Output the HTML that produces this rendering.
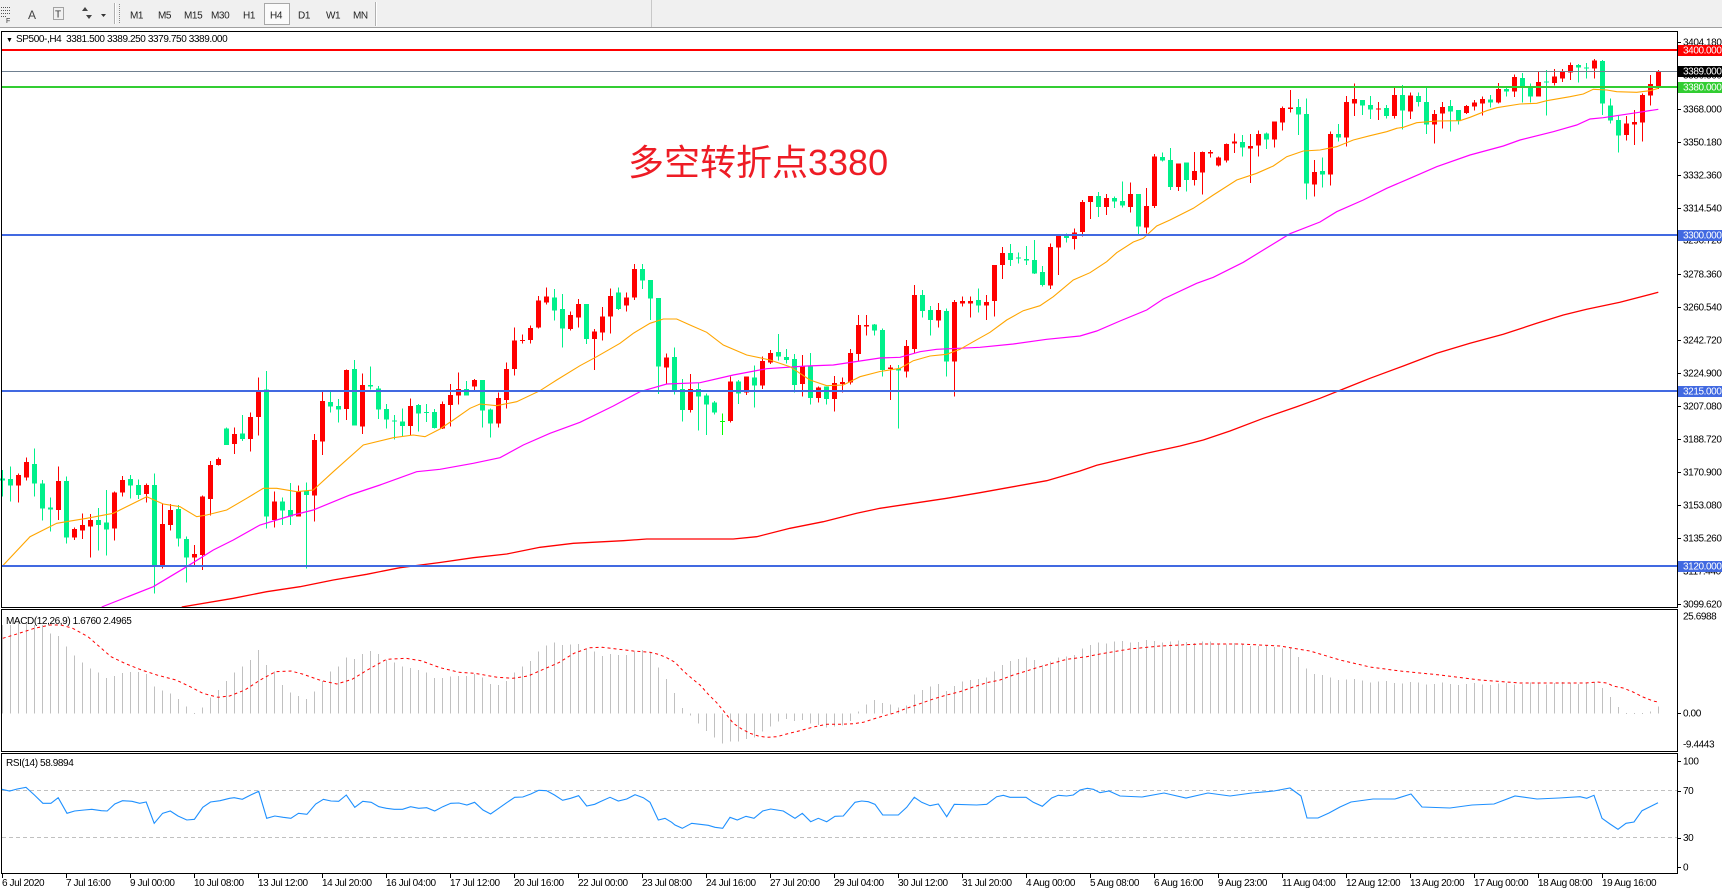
<!DOCTYPE html>
<html><head><meta charset="utf-8">
<style>
html,body{margin:0;padding:0;background:#fff;width:1722px;height:894px;overflow:hidden}
svg{display:block}
text{font-family:"Liberation Sans",sans-serif;font-size:10px;letter-spacing:-0.4px}
</style></head><body>
<svg id="s" width="1722" height="894" viewBox="0 0 1722 894" xmlns="http://www.w3.org/2000/svg">
<rect x="0" y="0" width="1722" height="894" fill="#ffffff"/>
<!-- toolbar -->
<rect x="0" y="0" width="1722" height="27" fill="#f0f0f0"/>
<line x1="0" y1="27.5" x2="1722" y2="27.5" stroke="#a0a0a0"/>
<line x1="651.5" y1="0" x2="651.5" y2="27" stroke="#c8c8c8"/>
<g stroke="#555" stroke-dasharray="1,1" stroke-width="1">
<line x1="1" y1="7.5" x2="10" y2="7.5"/><line x1="1" y1="10.5" x2="10" y2="10.5"/><line x1="1" y1="13.5" x2="10" y2="13.5"/><line x1="1" y1="16.5" x2="6" y2="16.5"/>
</g>
<text x="6" y="23" style="font-size:7px" fill="#333">F</text>
<text x="28" y="19" style="font-size:12px;letter-spacing:0" fill="#444">A</text>
<rect x="53.5" y="7.5" width="10" height="12" fill="none" stroke="#555" stroke-dasharray="1,1"/>
<text x="55" y="17.5" style="font-size:10px;letter-spacing:0" fill="#333">T</text>
<path d="M82 11 l3 -4 l3 4 z M86 15 l3 4 l3 -4 z" fill="#444"/>
<path d="M101 14 l5 0 l-2.5 3 z" fill="#333"/>
<line x1="114.5" y1="3" x2="114.5" y2="24" stroke="#b0b0b0"/>
<line x1="115.5" y1="3" x2="115.5" y2="24" stroke="#ffffff"/>
<line x1="119.5" y1="4" x2="119.5" y2="24" stroke="#888" stroke-dasharray="1,1"/>
<rect x="264.5" y="3.5" width="25" height="21" fill="#fbfbfb" stroke="#a8a8a8"/>
<g fill="#222" style="font-size:9px">
<text x="130" y="18.5">M1</text><text x="158" y="18.5">M5</text><text x="184" y="18.5">M15</text><text x="211" y="18.5">M30</text><text x="243" y="18.5">H1</text><text x="270" y="18.5">H4</text><text x="298" y="18.5">D1</text><text x="326" y="18.5">W1</text><text x="353" y="18.5">MN</text>
</g>
<line x1="375.5" y1="2" x2="375.5" y2="26" stroke="#b0b0b0"/>
<line x1="376.5" y1="2" x2="376.5" y2="26" stroke="#ffffff"/>
<g id="dyn"></g>
</svg>
<script>
(function(){
var out=[];
function R(x,y,w,h,f){out.push('<rect x="'+x+'" y="'+y.toFixed(2)+'" width="'+w+'" height="'+Math.max(h,1).toFixed(2)+'" fill="'+f+'" shape-rendering="crispEdges"/>');}
function PL(pts,st,extra){out.push('<polyline fill="none" stroke="'+st+'" '+(extra||'')+' points="'+pts.map(function(p){return p[0].toFixed(1)+','+p[1].toFixed(1)}).join(' ')+'"/>');}
function T(x,y,s,f,st){out.push('<text x="'+x+'" y="'+y+'" fill="'+(f||'#000')+'"'+(st?' style="'+st+'"':'')+'>'+s+'</text>');}
function L(x1,y1,x2,y2,st,extra){out.push('<line x1="'+x1+'" y1="'+y1+'" x2="'+x2+'" y2="'+y2+'" stroke="'+st+'" '+(extra||'')+' shape-rendering="crispEdges"/>');}

var A=[['g',810,890,836,842],['g',800,905,837,857],['r',820,908,825,857],['r',773,842,786,832],['g',746,890,792,851],['g',840,962,850,926],['g',893,995,923,929],['r',800,960,843,930],['g',830,1030,843,1013],['r',982,1020,987,1013],['r',940,1017,975,992],['r',942,1073,960,980],['g',924,1052,960,975],['g',870,1067,968,988],['r',875,1022,878,986],['r',828,890,840,878],['g',825,895,837,857],['g',838,897,855,885],['r',850,908,855,882],['g',820,1180,855,1097],['r',912,1105,972,1097],['r',912,992,930,975],['g',915,1040,927,1015],['g',1010,1148,1017,1073],['r',1035,1100,1062,1073],['r',887,1110,890,1065],['r',783,947,795,897],['r',773,797,777,795],['g',683,735,686,735],['r',682,762,702,732],['g',645,723,700,717],['r',637,755,651,717],['r',533,707,573,651],['g',513,985,568,950],['r',875,982,905,960],['g',892,975,905,932],['g',849,975,930,950],['r',857,950,875,950],['g',848,1105,873,885],['r',702,965,720,887],['r',575,765,603,725],['g',575,638,606,620],['g',597,668,618,628],['r',508,660,510,627],['g',480,677,507,677],['r',520,702,555,680],['g',500,568,555,560],['g',558,657,565,629],['g',612,685,627,658],['g',645,718,662,665],['g',625,710,665,678],['r',595,706,618,678],['g',612,695,615,640],['g',612,666,636,638],['g',627,685,636,684]];
var B=[['r',605,687,612,685],['r',552,680,585,615],['r',518,613,567,587],['g',543,587,567,587],['r',537,570,540,560],['g',540,683,540,632],['g',625,713,628,670],['r',578,683,594,670],['r',488,625,507,600],['r',383,527,422,507],['r',403,430,420,423],['r',377,430,384,420],['r',288,385,302,383],['r',263,314,290,308],['g',267,362,293,332],['g',282,442,327,385],['r',335,392,345,387],['r',297,382,312,353],['g',312,432,312,417],['r',387,510,395,417],['r',321,422,350,397],['r',265,400,288,350],['g',263,330,278,327],['r',277,335,293,317],['r',192,300,207,293],['g',192,267,207,242],['g',240,360,240,296],['g',294,582,294,500],['r',460,552,472,502],['g',443,583,471,570],['g',537,665,567,630],['r',522,638,567,630],['g',547,692,567,590],['g',580,705,587,614],['g',603,643,608,638],['l',640,705,663,666],['r',530,668,545,663],['g',540,612,545,580],['r',530,585,530,578],['g',497,622,533,557],['r',470,567,483,557],['r',450,492,459,487],['g',402,482,456,470],['g',447,490,471,480],['g',462,578,477,555],['r',465,590,500,552],['g',459,614,500,594],['r',560,608,562,594],['g',560,614,560,597],['r',528,635,549,597],['r',533,578,546,552],['r',447,553,459,548],['r',345,485,375,462],['r',345,407,375,380],['g',372,407,374,392]];
var C=[['g',625,770,630,750],['r',735,840,743,747],['g',735,925,745,752],['r',660,773,678,755],['r',495,700,525,687],['g',510,593,525,573],['g',558,647,570,600],['r',549,622,570,602],['g',565,770,573,725],['r',540,830,546,725],['r',530,560,543,551],['r',530,593,543,551],['g',505,577,540,557],['r',525,600,546,557],['r',435,590,435,543],['r',381,477,399,435],['g',372,438,399,420],['g',398,430,413,416],['g',378,435,417,422],['g',360,462,420,460],['g',438,500,456,495],['r',370,507,381,497],['r',345,465,345,383],['g',340,368,347,354],['r',325,389,337,357],['r',240,350,246,336],['r',228,297,228,246],['g',216,291,228,261],['r',222,285,234,261],['g',230,264,234,245],['g',185,262,243,257],['r',188,277,222,261],['g',222,343,222,320],['r',204,340,258,322],['r',102,264,110,258],['g',97,124,111,122],['g',84,210,120,201],['r',130,213,130,201],['g',128,215,128,180],['r',96,197,153,180],['r',94,224,96,158],['r',90,113,96,100],['r',110,140,113,137],['r',70,127,72,121],['r',40,99,65,71],['g',45,110,66,83],['r',42,189,78,86],['r',32,110,42,77],['g',38,87,40,59]];
var D=[['r',245,322,245,299],['r',200,272,204,248],['r',150,218,203,207],['g',177,285,201,224],['g',175,478,222,431],['r',360,470,396,434],['g',353,443,393,404],['r',275,437,282,404],['g',252,305,282,293],['r',168,320,186,293],['r',131,228,177,191],['g',180,225,180,197],['g',168,237,195,209],['r',186,240,206,209],['g',195,235,204,228],['r',143,236,165,228],['g',135,268,165,212],['r',158,237,167,215],['g',157,200,168,186],['g',143,282,186,253],['r',210,311,222,254],['r',186,266,201,221],['g',180,275,198,215],['g',210,253,210,243],['r',195,222,198,219],['r',180,211,188,200],['r',170,226,177,191],['g',165,203,178,187],['r',129,190,147,188],['g',142,170,147,155],['r',104,171,111,155],['g',99,188,114,140],['g',131,188,140,170],['r',95,170,126,170],['g',90,227,124,128],['r',87,137,110,129],['r',87,126,95,116],['r',67,120,75,97],['g',72,128,75,83],['g',69,115,82,86],['r',57,116,62,86],['g',60,225,63,190],['g',175,250,196,242],['g',228,338,240,287],['r',228,302,250,285],['r',210,315,246,254],['r',160,305,165,248],['r',105,197,132,167],['r',90,147,93,143]];
var COL={r:'#ff0000',g:'#00f08a',l:'#00ff00'};
var segs=[[200,A],[200,B],[120,C],[40,D]];
var i=0;
segs.forEach(function(sg){var off=sg[0];sg[1].forEach(function(c){
  var f=COL[c[0]];var wt=off+c[1]/3,wb=off+c[2]/3,bt=off+c[3]/3,bb=off+c[4]/3;
  R(8*i+2,wt,1,wb-wt,f);
  R(8*i,bt,5,bb-bt,f);
  i++;});});

// Moving averages
var orange=[[2.7,565.7],[30,536.7],[56.7,523.3],[86.7,518.3],[113.3,513.3],[146.7,496.7],[163.3,504],[180,506.7],[196.7,516.7],[206.7,515],[226.7,510],[246.7,498.3],[263.3,488.3],[276.7,488.3],[296.7,491.7],[313.3,490],[333.3,471.7],[363.3,445],[393.3,437.7],[413.3,435],[425,436.7],[440,429],[453.3,420],[470,408.3],[480,404],[496.7,405.7],[516.7,401.7],[540,390.7],[556.7,380],[580,365.7],[596.7,356.7],[620,343.3],[633.3,333.3],[650,323.3],[663.3,319],[676.7,319],[690,325],[706.7,332.3],[723.3,345],[746.7,355],[770,360],[790,366.7],[810,380],[826.7,385.7],[843.3,385],[860,376.7],[880,371.5],[900,368.3],[913.3,360.7],[930,356],[946.7,354.3],[960,349.3],[973.3,341.7],[990,332.3],[1006.7,320],[1023.3,310.7],[1040,305.7],[1053.3,296.7],[1073.3,280],[1090,272.7],[1106.7,261.7],[1116.7,252.7],[1133.3,242],[1143.3,238.3],[1156.7,226],[1170,220],[1193.3,208.3],[1213.3,195],[1236.7,180],[1256.7,173.3],[1273.3,166],[1286.7,156.7],[1303.3,151],[1320,150],[1336.7,146.7],[1353.3,140],[1370,135.7],[1386.7,131.7],[1396.7,128.3],[1403.3,127.3],[1416.7,122.7],[1436.7,121],[1460,120.7],[1470,117.3],[1486.7,110.7],[1496.7,107.7],[1520,104],[1536.7,103.3],[1546.7,100.7],[1570,96.7],[1583.3,94],[1593.3,89.3],[1606.7,90],[1616.7,91.7],[1636.7,92.3],[1650,90.7],[1658.3,88.3]];
var magenta=[[101.7,607],[153.3,586.7],[186.7,566.7],[213.3,550],[233.3,540],[260,525],[293.3,515],[313.3,510],[350,495],[380,485],[416.7,471.7],[440,469.3],[473.3,463.3],[500,457.7],[523.3,445],[550,433.3],[580,422.3],[613.3,406],[640,391.7],[666.7,384],[700,382.7],[733.3,375],[766.7,368.7],[806.7,366],[833.3,365],[860,361],[880,358],[900,357.3],[920,351.7],[936.7,349.3],[980,347.3],[1013.3,344],[1046.7,339.3],[1080,336],[1096.7,331],[1120,321],[1146.7,310],[1163.3,299],[1196.7,283.3],[1213.3,277.3],[1243.3,262.3],[1263.3,250],[1290,233.7],[1320,222],[1336.7,211.7],[1363.3,200],[1386.7,188.3],[1410,178.3],[1436.7,166.7],[1470,155],[1503.3,146],[1520,140],[1553.3,131.7],[1576.7,125],[1590,119],[1603.3,117.7],[1636.7,112.7],[1658.3,109.3]];
var redma=[[181.7,607],[233.3,598.3],[266.7,591.7],[300,586.7],[333.3,580],[366.7,574.3],[400,567.7],[440,562.5],[473.3,557.7],[506.7,554],[540,547.3],[573.3,543.3],[623.3,540.7],[646.7,539],[733.3,539],[756.7,536.7],[790,528.3],[823.3,521.7],[856.7,513.3],[880,508.3],[913.3,503.3],[946.7,498.3],[980,492.7],[1013.3,486.7],[1046.7,480.7],[1080,471],[1096.7,465.3],[1146.7,453.3],[1180,446],[1203.3,440],[1230,431],[1263.3,418.3],[1296.7,406.7],[1320,398.3],[1343.3,389],[1370,378.3],[1403.3,366],[1436.7,353.3],[1470,343.3],[1503.3,334.3],[1536.7,323.3],[1563.3,315],[1586.7,309.3],[1620,302.3],[1658.3,292.3]];
PL(redma,'#ff0000','stroke-width="1.3"');
PL(magenta,'#ff00ff','stroke-width="1.2"');
PL(orange,'#ffa500','stroke-width="1.1"');

// horizontal lines
R(2,49,1675,2,'#ff0000');
R(2,71,1675,1,'#708090');
R(2,86,1675,2,'#32cd32');
R(2,234,1675,2,'#4169e1');
R(2,390,1675,2,'#4169e1');
R(2,565,1675,2,'#4169e1');

// frames
function frame(x1,y1,x2,y2){out.push('<rect x="'+(x1+0.5)+'" y="'+(y1+0.5)+'" width="'+(x2-x1)+'" height="'+(y2-y1)+'" fill="none" stroke="#000" shape-rendering="crispEdges"/>');}
frame(1,31,1677,607);
frame(1,609,1677,751);
frame(1,753,1677,873);

// Right price axis
var ticks=[['3404.180',42.3],['3386.360',75.1],['3368.000',109],['3350.180',141.8],['3332.360',174.7],['3314.540',207.5],['3296.720',240.3],['3278.360',274.2],['3260.540',307],['3242.720',339.9],['3224.900',372.7],['3207.080',405.5],['3188.720',439.4],['3170.900',472.2],['3153.080',505],['3135.260',537.9],['3117.440',570.8],['3099.620',603.6]];
ticks.forEach(function(t){var y=Math.round(t[1]);L(1677,y+0.5,1681,y+0.5,'#000');T(1683,(y+3.5),t[0]);});
function lab(y,bg,s){R(1678,y-5,44,11,bg);T(1683,y+3.5,s,'#fff');}
lab(50,'#ff0000','3400.000');
lab(71,'#000000','3389.000');
lab(87,'#32cd32','3380.000');
lab(235,'#4169e1','3300.000');
lab(391,'#4169e1','3215.000');
lab(566,'#4169e1','3120.000');

// header text
T(6,42,'&#9660;','#000','font-size:7px');
T(16,42,'SP500-,H4  3381.500 3389.250 3379.750 3389.000','#000','white-space:pre');

// big annotation
out.push('<text x="628" y="175" fill="#ee1c25" style="font-family:\'Liberation Sans\',\'Noto Sans CJK SC\',sans-serif;font-size:36px;letter-spacing:0">多空转折点3380</text>');

// MACD
var Z=713.5;
var m1=[75,75,65,68,75,75,100,108,140,167,188,205,218,234,228,219,216,216,222,260,272,280,297,320,340,323,292,270,243,218,200,180,150,195,215,255,278,288,297,275,243,215,200,172,177,162,153,162,180,188,200,204,210,218,234,234,230,228,228,222,233,252,255,243,218,200,183,155,137,128,135,133,132,147,155];
var m2=[153,147,150,150,140,135,142,188,222,264,309,332,356,378,398,416,410,410,402,398,380,365,350,342,348,345,355,360,368,365,362,348,320,299,285,294,299,308,302,269,255,245,237,258,243,230,225,222,218,200,180,168,162,158,165,180,170,158,155,150,131,120,113];
var mk=[[1098,642.7],[1150,641],[1200,642],[1250,645],[1290,648],[1300,660],[1310,672],[1330,678],[1380,682],[1450,684],[1500,684],[1550,683],[1580,683]];
var m4=[683,682,688,697,707,713,713.5,712.7,711.7,706.7];
function interp(pts,x){if(x<=pts[0][0])return pts[0][1];for(var k=1;k<pts.length;k++){if(x<=pts[k][0]){var a=pts[k-1],b=pts[k];return a[1]+(b[1]-a[1])*(x-a[0])/(b[0]-a[0]);}}return pts[pts.length-1][1];}
var mv=[];
m1.forEach(function(v){mv.push(600+v/3);});
m2.forEach(function(v){mv.push(605+v/3);});
for(var j=138;j<=197;j++){var x=2.5+8*j;mv.push(interp(mk,x)+1.2*Math.sin(j*1.7));}
m4.forEach(function(v){mv.push(v);});
mv.forEach(function(y,j){var a=Math.min(y,Z),b=Math.max(y,Z);if(b-a<0.8){a=Z-0.5;b=Z+0.5;}R(8*j+2,a,1,b-a,'#c0c0c0');});
var sig=[[2.7,638.3],[19.1,633.3],[34.4,628.3],[49.8,625],[61.2,625],[72.7,628.3],[88,636.7],[99.5,646.7],[111,656.7],[126.3,664],[141.6,670],[156.9,675],[176,680],[191.4,687.3],[202.8,693.3],[218.1,697.3],[229.6,696],[244.9,690],[260.2,680],[275.5,671.7],[290.9,671],[302.3,674],[321.5,680.7],[336.8,684],[352.1,679.3],[367.4,670],[386.5,659.3],[405.7,658.3],[421,660.7],[440.1,667.7],[459.2,672.3],[474.5,673.3],[497.5,677.3],[512.8,678.3],[528.1,676],[543.4,669.3],[558.7,662.7],[574,653.3],[589.4,647.7],[602.3,647.3],[616.7,649],[633.3,651],[650,652.3],[658.3,654.3],[666.7,657.7],[675,662.3],[683.3,671],[691.7,678.3],[700,685],[708.3,694.3],[716.7,702.7],[725,712.7],[733.3,723.3],[741.7,729],[750,733.3],[758.3,736],[766.7,737.3],[776.7,736.7],[786.7,734],[800,730.7],[813.3,727],[826.7,724.3],[840,724.3],[853.3,723.7],[863.3,722.3],[873.3,719],[883.3,716],[893.3,713.3],[906.7,708.3],[920,703.7],[933.3,699],[946.7,695],[960,691.7],[973.3,687],[986.7,682.7],[1000,680],[1013.3,675],[1026.7,671],[1036.7,667.7],[1050,664],[1066.7,659.3],[1086.7,656.7],[1100,654],[1130,649],[1160,646],[1200,644],[1240,644],[1280,646],[1310,651],[1340,660],[1370,667],[1400,671],[1440,675],[1480,680],[1520,683],[1560,683],[1585,683],[1597,682],[1607,683],[1613,686],[1623,688],[1633,692],[1643,697],[1653,701],[1658,702]];
PL(sig,'#ff0000','stroke-width="1" stroke-dasharray="3,3"');
T(6,624,'MACD(12,26,9) 1.6760 2.4965');
L(1677,713.5,1681,713.5,'#000');
T(1683,619.5,'25.6988');T(1683,716.5,'0.00');T(1683,747.5,'-9.4443');

// RSI
L(2,790.5,1677,790.5,'#c0c0c0','stroke-dasharray="4,3"');
L(2,837.5,1677,837.5,'#c0c0c0','stroke-dasharray="4,3"');
var r1=[[5,568],[25,573],[45,567],[68,562],[90,585],[112,610],[133,610],[152,593],[175,640],[195,633],[220,630],[240,628],[265,632],[280,633],[300,612],[320,602],[345,604],[365,610],[382,606],[403,670],[425,640],[445,633],[465,648],[488,660],[508,658],[530,622],[550,606],[575,602],[600,595],[612,593],[633,598],[655,585],[676,574],[697,655],[718,648],[740,652],[760,655],[780,640],[802,643],[825,612],[845,598],[865,603],[885,604],[905,585],[927,622],[948,604],[970,607],[990,620],[1010,625],[1030,628],[1052,628],[1073,620],[1094,625],[1115,623],[1136,633],[1157,620],[1178,610],[1199,609],[1220,615],[1240,607],[1262,630],[1282,642],[1303,625],[1324,608],[1345,592],[1366,591],[1387,582],[1408,571],[1428,572],[1449,585],[1470,601],[1491,595],[1512,587],[1533,618],[1554,613],[1568,605]];
var r2=[[0,590],[30,577],[55,588],[80,582],[105,569],[130,578],[150,592],[175,645],[195,640],[215,652],[225,660],[247,670],[275,655],[300,658],[325,661],[345,667],[368,670],[390,637],[412,645],[438,634],[462,640],[488,618],[512,612],[550,618],[585,640],[607,625],[632,650],[655,640],[680,650],[705,634],[730,633],[765,592],[785,588],[805,590],[825,598],[848,630],[895,630],[920,607],[943,577],[965,592],[990,602],[1015,597],[1040,635],[1063,598],[1130,600],[1160,598],[1190,575],[1210,571],[1230,577],[1278,577],[1300,592],[1327,604],[1355,579],[1375,571],[1400,573],[1420,570],[1440,555],[1462,550],[1480,553],[1500,563]];
var r3=[[1109,791],[1120,796],[1142,797],[1164,793],[1186,798],[1208,793],[1230,796],[1252,793],[1274,791],[1290,788],[1301,796],[1307,818],[1318,818],[1329,813],[1340,807],[1351,802],[1373,799],[1395,799],[1411,794],[1422,807],[1450,808],[1472,805],[1494,804],[1515,796],[1537,799],[1559,798]];
var r4=[[0,590],[20,595],[42,586],[66,655],[90,672],[114,688],[138,670],[162,666],[186,632],[210,620],[234,608]];
var rsi=[];
r1.forEach(function(p){rsi.push([p[0]/2.613,600+p[1]/3]);});
r2.forEach(function(p){if(p[0]>0)rsi.push([600+p[0]/3,605+p[1]/3]);});
r3.forEach(function(p){rsi.push(p);});
r4.forEach(function(p){rsi.push([1580+p[0]/3,600+p[1]/3]);});
PL(rsi,'#1e90ff','stroke-width="1.1"');
T(6,766,'RSI(14) 58.9894');
[[761,'100'],[790.5,'70'],[837.5,'30'],[867,'0']].forEach(function(t){L(1677,Math.round(t[0])+0.5,1681,Math.round(t[0])+0.5,'#000');T(1683,t[0]+3.5,t[1]);});

// X axis
var xl=["6 Jul 2020","7 Jul 16:00","9 Jul 00:00","10 Jul 08:00","13 Jul 12:00","14 Jul 20:00","16 Jul 04:00","17 Jul 12:00","20 Jul 16:00","22 Jul 00:00","23 Jul 08:00","24 Jul 16:00","27 Jul 20:00","29 Jul 04:00","30 Jul 12:00","31 Jul 20:00","4 Aug 00:00","5 Aug 08:00","6 Aug 16:00","9 Aug 23:00","11 Aug 04:00","12 Aug 12:00","13 Aug 20:00","17 Aug 00:00","18 Aug 08:00","19 Aug 16:00"];
xl.forEach(function(s,k){var x=2+64*k;L(x+0.5,873,x+0.5,878,'#000');T(x,886,s);});

document.getElementById('dyn').innerHTML=out.join('');
})();
</script>
</body></html>
